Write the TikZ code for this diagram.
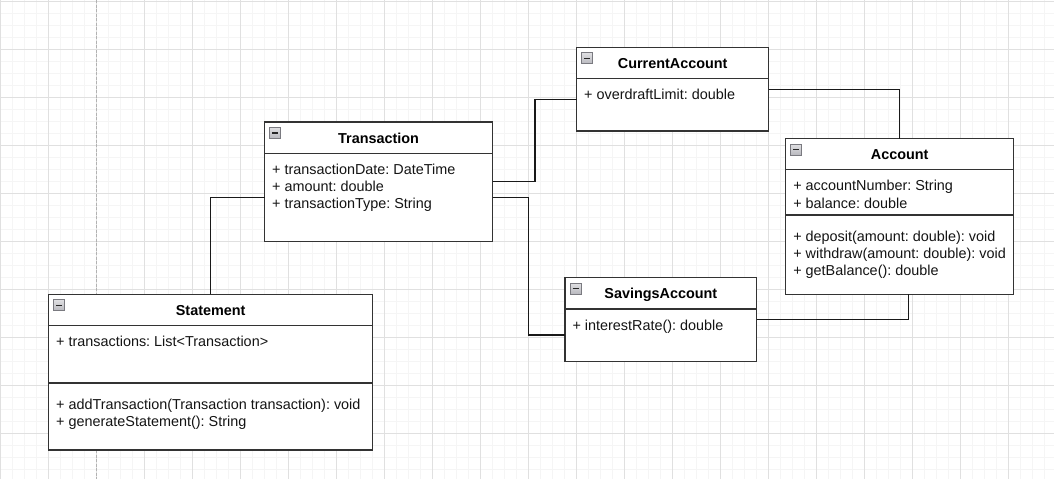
\documentclass[tikz,border=0pt]{standalone}
\usepackage{fontspec}
\setmainfont{Liberation Sans}
\usetikzlibrary{calc}
\frenchspacing
\definecolor{gridminor}{HTML}{F5F5F5}
\definecolor{gridmajor}{HTML}{E0E0E0}
\definecolor{boxline}{HTML}{333333}
\definecolor{icongray}{HTML}{B8B8BE}
\definecolor{iconedge}{HTML}{7A7A80}
\tikzset{
  umlbox/.style={draw=boxline, fill=white, line width=1.2pt, inner sep=0pt, outer sep=0pt, anchor=north west},
  sepline/.style={draw=boxline, line width=1.2pt},
  conn/.style={draw=black!90, line width=1.2pt},
  headtext/.style={font=\fontsize{14.4}{17.3}\selectfont\bfseries, inner sep=0pt, anchor=base},
  attrtext/.style={font=\fontsize{14.4}{17.3}\selectfont, inner sep=0pt, anchor=base west, text=black!92},
  collapseicon/.pic={
    \draw[draw=iconedge, line width=0.8pt, top color=icongray!45, bottom color=icongray] (0,0) rectangle (11,11);
    \draw[black!85, line width=1.5pt] (2.5,5.5) -- (8.5,5.5);
  }
}
\begin{document}
\begin{tikzpicture}[x=1pt, y=-1pt]
\useasboundingbox (0,0) rectangle (1054,479);
\fill[white] (0,0) rectangle (1054,479);
% grid
\foreach \gx in {0,12,...,1056} {\draw[gridminor, line width=1pt] (\gx+0.3,0) -- (\gx+0.3,479);}
\foreach \gy in {1,13,...,481} {\draw[gridminor, line width=1pt] (0,\gy) -- (1054,\gy);}
\foreach \gx in {0,48,...,1056} {\draw[gridmajor, line width=1pt] (\gx+0.3,0) -- (\gx+0.3,479);}
\foreach \gy in {1,49,...,481} {\draw[gridmajor, line width=1pt] (0,\gy) -- (1054,\gy);}
\draw[black!30, line width=1pt, dash pattern=on 3pt off 1.5pt] (96.3,0) -- (96.3,479);

% boxes
\node[umlbox, minimum width=227.8pt, minimum height=119.3pt] (trans) at (264.7,122) {};
\node[umlbox, minimum width=192pt, minimum height=83.7pt] (cur) at (576.7,47.3) {};
\node[umlbox, minimum width=228pt, minimum height=155.6pt] (acc) at (785.7,138.7) {};
\node[umlbox, minimum width=191.7pt, minimum height=84pt] (sav) at (565,277.7) {};
\node[umlbox, minimum width=324pt, minimum height=155.7pt] (stmt) at (48.7,294.3) {};

% connectors
\draw[conn] (stmt.north) |- (trans.west |- 0,197.3);
\draw[conn] (trans.east |- 0,181.3) -- (535,181.3) -- (535,99.3) -- (cur.west |- 0,99.3);
\draw[conn] (trans.east |- 0,197.7) -- (528.5,197.7) -- (528.5,335) -- (sav.west |- 0,335);
\draw[conn] (cur.east |- 0,89.3) -| (acc.north);
\draw[conn] (acc.south -| 908.3,0) |- (sav.east |- 0,319.3);

% separators
\draw[sepline] (trans.west |- 0,153.3) -- (trans.east |- 0,153.3);
\draw[sepline] (cur.west |- 0,78.7) -- (cur.east |- 0,78.7);
\draw[sepline] (acc.west |- 0,169.7) -- (acc.east |- 0,169.7);
\draw[sepline] (acc.west |- 0,215) -- (acc.east |- 0,215);
\draw[sepline] (sav.west |- 0,309) -- (sav.east |- 0,309);
\draw[sepline] (stmt.west |- 0,325.7) -- (stmt.east |- 0,325.7);
\draw[sepline] (stmt.west |- 0,383) -- (stmt.east |- 0,383);

% icons
\pic at (269.7,127.5) {collapseicon};
\pic at (581.7,52.8) {collapseicon};
\pic at (790.7,144.2) {collapseicon};
\pic at (570,283.2) {collapseicon};
\pic at (53.7,299.8) {collapseicon};

% headers
\node[headtext] (transh) at (trans.north |- 0,143.3) {Transaction};
\node[headtext] (curh) at (cur.north |- 0,68.5) {CurrentAccount};
\node[headtext] (acch) at (acc.north |- 0,159.8) {Account};
\node[headtext] (savh) at (sav.north |- 0,298.8) {SavingsAccount};
\node[headtext] (stmth) at (stmt.north |- 0,315.5) {Statement};

% Transaction attributes
\node[attrtext] (ta1) at (272,174.3) {+ transactionDate: DateTime};
\node[attrtext] (ta2) at (272,191.6) {+ amount: double};
\node[attrtext] (ta3) at (272,208.9) {+ transactionType: String};
% CurrentAccount
\node[attrtext] (ca1) at (584,99.9) {+ overdraftLimit: double};
% Account
\node[attrtext] (aa1) at (793.1,190.9) {+ accountNumber: String};
\node[attrtext] (aa2) at (793.1,208.2) {+ balance: double};
\node[attrtext] (am1) at (793.1,241.2) {+ deposit(amount: double): void};
\node[attrtext] (am2) at (793.1,258.5) {+ withdraw(amount: double): void};
\node[attrtext] (am3) at (793.1,275.8) {+ getBalance(): double};
% SavingsAccount
\node[attrtext] (sa1) at (572.3,330) {+ interestRate(): double};
% Statement
\node[attrtext] (st1) at (56,346.8) {+ transactions: List<Transaction>};
\node[attrtext] (sm1) at (56,409.2) {+ addTransaction(Transaction transaction): void};
\node[attrtext] (sm2) at (56,426.5) {+ generateStatement(): String};
\end{tikzpicture}
\end{document}
